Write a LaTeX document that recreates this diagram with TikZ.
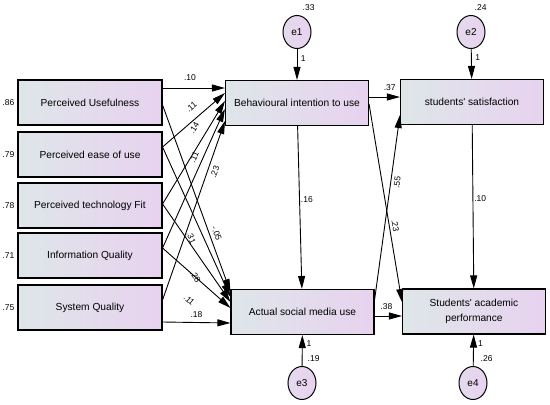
\documentclass[tikz,border=0pt]{standalone}
\usepackage{fontspec}
\setmainfont{Liberation Sans}[Ligatures=TeXOff]
\usepackage{tikz}
\usetikzlibrary{positioning,shapes.geometric,arrows.meta}

\definecolor{boxleft}{HTML}{DEE6E9}
\definecolor{boxright}{HTML}{E8D2EF}

\tikzset{
  obs/.style={draw, line width=1.1pt, left color=boxleft, right color=boxright,
    minimum width=143pt, minimum height=45pt, inner sep=2pt, align=center,
    font=\fontsize{10.2}{14.5}\selectfont},
  err/.style={ellipse, draw, line width=1pt, left color=boxleft!40!boxright,
    right color=boxright, minimum width=28pt, minimum height=33pt, inner sep=0pt,
    font=\fontsize{10}{12}\selectfont},
  coef/.style={font=\fontsize{8.5}{10}\selectfont, inner sep=1pt},
  arr/.style={line width=0.9pt, -{Triangle[length=13pt,width=7pt]}}
}

\begin{document}
\begin{tikzpicture}[x=1pt, y=-1pt]
  \useasboundingbox (0,0) rectangle (550,405);

  % exogenous boxes
  \foreach \name/\txt/\y/\v in {pu/Perceived Usefulness/102.5/.86,
      peou/Perceived ease of use/154.5/.79,
      ptf/Perceived technology Fit/205.5/.78,
      iq/Information Quality/255.5/.71,
      sq/System Quality/307.5/.75} {
    \node[obs, minimum width=144pt, label={[coef, label distance=2pt]left:\v}] (\name) at (90,\y) {\txt};
  }

  % endogenous boxes
  \node[obs] (bi) at (297,103) {Behavioural intention to use};
  \node[obs] (ss) at (472,102) {students' satisfaction};
  \node[obs] (asm) at (302.5,312) {Actual social media use};
  \node[obs] (sap) at (474,311.5) {Students' academic\\performance};

  % error terms
  \node[err] (e1) at (297,32) {e1};
  \node[err] (e2) at (471,32) {e2};
  \node[err] (e3) at (302,383) {e3};
  \node[err] (e4) at (473,383) {e4};
  \node[coef, above right=3.5pt and 4.5pt of e1.north] (v1) {.33};
  \node[coef, above right=3.5pt and 2.5pt of e2.north] (v2) {.24};
  \node[coef, above right=3pt and 4.5pt of e3.north] (v3) {.19};
  \node[coef, above right=3pt and 6.5pt of e4.north] (v4) {.26};

  \draw[arr] (e1) -- node[coef, right=2.5pt, pos=.30] {1} (bi);
  \draw[arr] (e2) -- node[coef, right=2.5pt, pos=.30] {1} (ss);
  \draw[arr] (e3) -- node[coef, right=3pt, pos=.72] {1} (asm);
  \draw[arr] (e4) -- node[coef, right=3pt, pos=.72] {1} (sap);

  % paths to behavioural intention
  \draw[arr] ([yshift=14.5pt]pu.east) -- node[coef, sloped, above=6pt, pos=.44] {.10} ([yshift=15pt]bi.west);
  \draw[arr] ([yshift=7.5pt]peou.east) -- node[coef, sloped, above=7pt, pos=.58] {.11} ([yshift=10pt]bi.west);
  \draw[arr] ([yshift=1.5pt]ptf.east) -- node[coef, sloped, above=8pt, pos=.675] {.14} ([yshift=2pt]bi.west);
  \draw[arr] ([yshift=7.5pt]iq.east) -- node[coef, sloped, above=4pt, pos=.63] {.11} ([yshift=-6pt]bi.west);
  \draw[arr] ([yshift=7.5pt]sq.east) -- node[coef, sloped, below=2.7pt, pos=.73] {.23} ([yshift=-18pt]bi.west);

  % paths to actual use
  \draw[arr] ([yshift=-2.5pt]pu.east) -- node[coef, sloped, above=2.5pt, pos=.70] {-.05} ([yshift=20pt]asm.west);
  \draw[arr] ([yshift=7.5pt]peou.east) -- node[coef, sloped, below=7pt, pos=.575] {.31} ([yshift=15pt]asm.west);
  \draw[arr] ([yshift=1.5pt]ptf.east) -- node[coef, sloped, below=10pt, pos=.66] {.28} ([yshift=10pt]asm.west);
  \draw[arr] ([yshift=7.5pt]iq.east) -- node[coef, sloped, below=17pt, pos=.60] {.11} ([yshift=4pt]asm.west);
  \draw[arr] ([yshift=-14.5pt]sq.east) -- node[coef, above=3.5pt, pos=.5] {.18} ([yshift=-11pt]asm.west);

  % outcome paths
  \draw[arr] (bi) -- node[coef, right, pos=.45] {.16} (asm);
  \draw[arr] (ss) -- node[coef, right, pos=.45] {.10} (sap);
  \draw[arr] ([yshift=6pt]bi.east) -- node[coef, above=5pt, pos=.67] {.37} ([yshift=5pt]ss.west);
  \draw[arr] ([yshift=-4pt]asm.east) -- node[coef, above=5pt, pos=.43] {.38} ([yshift=-4.5pt]sap.west);
  \draw[arr] ([yshift=-1pt]bi.east) -- node[coef, sloped, above=1.5pt, pos=.62] {.23} ([yshift=9.5pt]sap.west);
  \draw[arr] ([yshift=12pt]asm.east) -- node[coef, sloped, below=2pt, pos=.64] {.55} ([yshift=-13pt]ss.west);
\end{tikzpicture}
\end{document}
